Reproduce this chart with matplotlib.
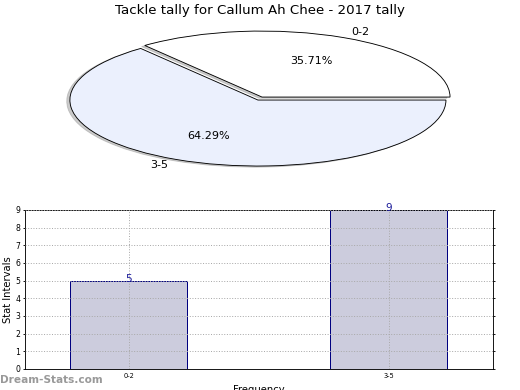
import matplotlib
matplotlib.use('Agg')
import matplotlib.pyplot as plt

# Данные для круговой диаграммы
pie_labels = ['0-2', '3-5']
pie_values = [5, 9]
pie_colors = ['white', '#ebf0fd']

# Данные для столбчатой диаграммы
bar_labels = ['0-2', '3-5']
bar_values = [5, 9]

fig = plt.figure(figsize=(6.5, 4.875), dpi=80)

# Круговая диаграмма (растянутая по горизонтали)
ax1 = fig.add_axes([0.044, 0.532, 0.904, 0.423])
ax1.pie(pie_values, labels=pie_labels, colors=pie_colors, explode=[0.05, 0],
        autopct='%.2f%%', shadow={'ox': -0.015, 'oy': -0.015, 'color': '#999999'},
        startangle=0,
        wedgeprops={'edgecolor': 'black', 'linewidth': 0.8},
        textprops={'fontsize': 10})
ax1.set_aspect('auto')
ax1.set_xlim(-1.25, 1.25)
ax1.set_ylim(-1.25, 1.25)
fig.text(0.5, 0.972, 'Tackle tally for Callum Ah Chee - 2017 tally',
         ha='center', va='center', fontsize=12)

# Столбчатая диаграмма
ax2 = fig.add_axes([0.048, 0.054, 0.9, 0.408])
x = range(len(bar_values))
bars = ax2.bar(x, bar_values, width=0.45, color='#ccccdd',
               edgecolor='#000080', linewidth=0.9, zorder=2)
for b in bars:
    h = b.get_height()
    ax2.text(b.get_x() + b.get_width() / 2., h - 0.2, f'{int(h)}',
             ha='center', va='bottom', color='#1a1a99', fontsize=9.5, zorder=3)
ax2.set_xlim(-0.4, 1.4)
ax2.set_ylim(0, 9)
ax2.set_xticks(list(x))
ax2.set_xticklabels(bar_labels, fontsize=6)
ax2.set_yticks(range(10))
ax2.tick_params(axis='y', labelsize=7, length=2, pad=2, right=True)
ax2.tick_params(axis='x', length=0, pad=4)
ax2.grid(True, linestyle=':', color='#aaaaaa', linewidth=0.9, zorder=0)
ax2.set_axisbelow(False)
ax2.set_ylabel('Stat Intervals', fontsize=9, labelpad=2)
ax2.set_xlabel('Frequency', fontsize=9, labelpad=5)

fig.text(0.0, 0.025, 'Dream-Stats.com', fontsize=9.5, color='#999999',
         ha='left', va='center', fontweight='bold')

plt.savefig('out.png', dpi=80)
